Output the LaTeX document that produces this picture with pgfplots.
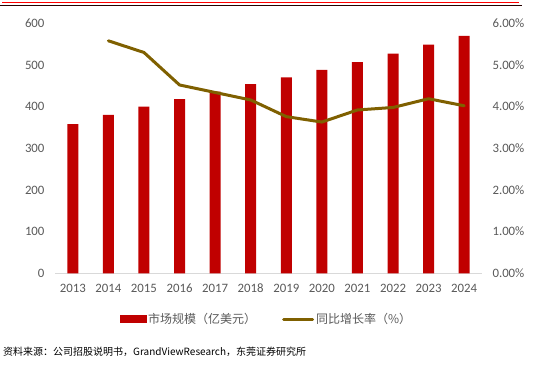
\documentclass[border=0pt]{standalone}
\usepackage{pgfplots}
\pgfplotsset{compat=1.18}
\usepackage{fontspec}
\setmainfont{Carlito}
\newfontfamily\cjk{Noto Sans CJK SC}
\definecolor{barred}{HTML}{C00000}
\definecolor{olivel}{HTML}{7F6000}
\definecolor{ticktext}{HTML}{595959}
\definecolor{axisgray}{HTML}{D9D9D9}
\begin{document}
\begin{tikzpicture}[x=1pt,y=1pt]
\useasboundingbox (0,0) rectangle (551,364);
\draw[red, line width=0.9pt] (2,362) -- (519,362);
\draw[black!85!red, line width=0.9pt] (0,358.8) -- (522,358.8);
\begin{axis}[
  at={(55pt,90.7pt)}, anchor=south west,
  scale only axis, width=427pt, height=250pt,
  xmin=-0.5, xmax=11.5, ymin=0, ymax=600,
  ytick={0,100,...,600},
  xtick={0,...,11},
  xticklabels={2013,2014,2015,2016,2017,2018,2019,2020,2021,2022,2023,2024},
  axis lines*=left,
  y axis line style={draw=none},
  x axis line style={draw=axisgray, line width=0.8pt, -},
  major tick length=0pt,
  tick label style={text=ticktext, font=\fontsize{12.8}{14}\selectfont},
  /pgf/number format/assume math mode=true,
  yticklabel style={xshift=-7pt},
  xticklabel style={yshift=-7pt},
  clip=false,
]
\addplot[ybar, bar width=11pt, fill=barred, draw=none] coordinates {
(0,358) (1,380) (2,400) (3,418) (4,436) (5,454) (6,470) (7,488) (8,507) (9,527) (10,549) (11,570)};
\end{axis}
\begin{axis}[
  at={(55pt,90.7pt)}, anchor=south west,
  scale only axis, width=427pt, height=250pt,
  xmin=-0.5, xmax=11.5, ymin=0, ymax=6,
  ytick={0,1,...,6},
  axis y line*=right, axis x line=none,
  y axis line style={draw=none},
  major tick length=0pt,
  tick label style={text=ticktext, font=\fontsize{12.8}{14}\selectfont},
  yticklabel={\pgfmathprintnumber[fixed,fixed zerofill,precision=2,assume math mode=true]{\tick}\%},
  yticklabel style={xshift=7pt},
  clip=false,
  legend columns=2,
  legend style={draw=none, fill=none, at={(0.495,-0.183)}, anchor=center,
    font=\cjk\fontsize{12}{14}\selectfont, text=ticktext,
    /tikz/every even column/.append style={column sep=24pt},
    inner sep=0pt},
]
\addlegendimage{legend image code/.code={\fill[barred] (0pt,-3.5pt) rectangle (26pt,3.5pt);}}
\addlegendentry{市场规模（亿美元）}
\addplot[olivel, line width=3pt, line join=round, line cap=round,
  legend image code/.code={\draw[olivel, line width=3pt] (0pt,0pt) -- (29pt,0pt);}] coordinates {
(1,5.58) (2,5.30) (3,4.52) (4,4.34) (5,4.16) (6,3.76) (7,3.63) (8,3.92) (9,3.98) (10,4.19) (11,4.02)};
\addlegendentry{同比增长率（\%）}
\end{axis}
\node[anchor=west, inner sep=0pt, font=\cjk\fontsize{10}{12}\selectfont] at (3,12) {资料来源：公司招股说明书，GrandViewResearch，东莞证券研究所};
\end{tikzpicture}
\end{document}
